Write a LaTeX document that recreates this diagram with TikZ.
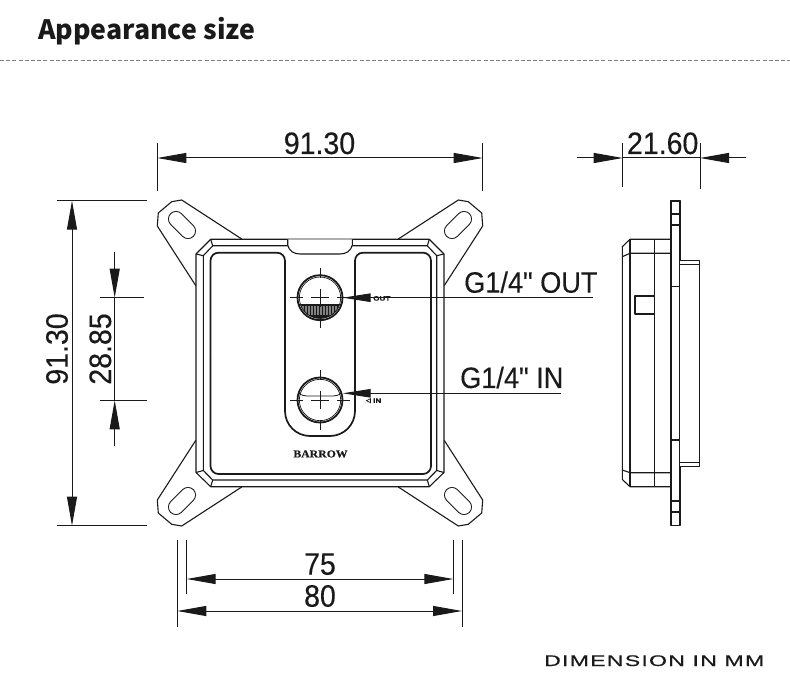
\documentclass[tikz,border=0pt]{standalone}
\usepackage{fontspec}
\usetikzlibrary{arrows.meta}
\setmainfont{Liberation Sans}
\newfontfamily\titlef{Noto Sans CJK SC}
\newfontfamily\dimf[FakeStretch=0.92,FakeBold=0.25]{Liberation Sans}
\newfontfamily\brandf[FakeStretch=1.12,FakeBold=0.6]{Liberation Serif}
\newfontfamily\footf[FakeStretch=1.5,LetterSpace=8,FakeBold=0.4]{Liberation Sans}
\newfontfamily\tinyf[FakeStretch=1.25,FakeBold=0.5]{Liberation Sans}
\definecolor{ink}{HTML}{1A1A1A}
\tikzset{
  x=1pt,y=-1pt,
  thinl/.style={draw=ink,line width=1pt},
  outl/.style={draw=ink,line width=1.1pt,line join=round},
  heavy/.style={draw=ink,line width=1.7pt,line join=round},
  ext/.style={draw=ink,line width=0.9pt},
  dimline/.style={draw=ink,line width=1pt},
  dimtip/.tip={Triangle[length=29pt,width=10pt,sep=0pt]},
  both/.style={dimline,{dimtip}-{dimtip}},
  onetip/.style={dimline,-{dimtip}},
  dimtext/.style={inner sep=0pt,anchor=base,text=ink,font=\dimf\fontsize{31}{31}\selectfont},
  labeltext/.style={inner sep=0pt,anchor=base west,text=ink,font=\dimf\fontsize{29.5}{30}\selectfont},
  smalltext/.style={inner sep=0pt,anchor=west,text=ink,font=\tinyf\bfseries\fontsize{6.5}{7}\selectfont},
  center/.style={draw=ink,line width=0.9pt},
}
\newcommand{\earshape}{%
  \draw[outl] (-124,-77) -- (-162.7,-137) -- (-161.7,-150) -- (-148.3,-161.3) -- (-138.3,-163) -- (-78.3,-124);
  \draw[draw=ink,line width=16pt,line cap=round] (-144,-144) -- (-132,-132);
  \draw[draw=white,line width=14pt,line cap=round] (-144,-144) -- (-132,-132);
}
\newcommand{\crosshair}[2]{%
  \draw[center] (#1-30,#2) -- (#1-17,#2) (#1-9,#2) -- (#1+9,#2) (#1+17,#2) -- (#1+30,#2);
  \draw[center] (#1,#2-30) -- (#1,#2-20) (#1,#2-9) -- (#1,#2+9) (#1,#2+20) -- (#1,#2+30);
}
\begin{document}
\begin{tikzpicture}
\useasboundingbox (0,0) rectangle (790,700);
\fill[white] (0,0) rectangle (790,700);
% title
\node[inner sep=0pt,anchor=base west,text=ink,font=\titlef\bfseries\fontsize{26.7}{27}\selectfont] (title) at (38,39.5) {Appearance size};
\coordinate (ruleL) at (0,60.5); \coordinate (ruleR) at (790,60.5);
\draw[draw=gray,line width=0.8pt,dash pattern=on 4pt off 2.2pt] (ruleL) -- (ruleR);
% ears
\foreach \sx/\sy in {1/1,-1/1,1/-1,-1/-1}{
  \begin{scope}[shift={(320,363)},xscale=\sx,yscale=\sy]\earshape\end{scope}
}
% body
\draw[outl,fill=white] (210.7,239.3) -- (429.3,239.3) -- (444,254) -- (444,472.5) -- (429.3,486.7) -- (210.7,486.7) -- (196,472.5) -- (196,254) -- cycle;
\draw[outl] (212.7,245.8) -- (427.3,245.8) -- (436.7,255.7) -- (436.7,470.5) -- (427.3,480) -- (212.7,480) -- (203.3,470.5) -- (203.3,255.7) -- cycle;
\draw[outl] (210.7,239.3) -- (212.7,245.8) (429.3,239.3) -- (427.3,245.8)
  (444,254) -- (436.7,255.7) (196,254) -- (203.3,255.7)
  (444,472.5) -- (436.7,470.5) (196,472.5) -- (203.3,470.5)
  (429.3,486.7) -- (427.3,480) (210.7,486.7) -- (212.7,480);
% notch
\draw[outl,fill=white] (287.7,239.3) -- (287.7,245) .. controls (289,251) and (294,254) .. (300,254) -- (340,254) .. controls (346,254) and (351,251) .. (352.3,245) -- (352.3,239.3);
% plate outline
\draw[heavy,rounded corners=8pt] (210.5,360) -- (210.5,252.7) -- (285,252.7) -- (285,300);
\draw[heavy,rounded corners=25pt] (285,290) -- (285,436) -- (355,436) -- (355,290);
\draw[heavy,rounded corners=8pt] (355,300) -- (355,252.7) -- (431,252.7) -- (431,474) -- (210.5,474) -- (210.5,360);
% ports
\begin{scope}
  \clip (320,297.7) circle (21);
  \fill[ink] (298,305) rectangle (342,322);
  \foreach \i in {0,...,28}{\draw[draw=ink!55,line width=0.4pt] (299+\i*1.5,306) -- (299+\i*1.5,315);}
\end{scope}
\draw[draw=ink,line width=1pt] (299,305) -- (341,305);
\draw[heavy,line width=1.8pt] (320,297.7) circle (22.5);
\draw[thinl,line width=0.7pt] (320,297.7) circle (20.7);
\crosshair{320}{297.7}
\draw[heavy,line width=1.8pt] (320,400) circle (22.5);
\draw[thinl,line width=0.7pt] (320,400) circle (20.7);
\draw[thinl,line width=0.8pt] (298.8,393) .. controls (301,395.5) and (305,396) .. (309,396) -- (331,396) .. controls (335,396) and (339,395.5) .. (341.2,393);
\crosshair{320}{400}
\node[inner sep=0pt,text=ink,font=\brandf\bfseries\fontsize{10.5}{11}\selectfont] (brand) at (320.5,454) {BARROW};
% leaders
\coordinate (outEnd) at (593,297.7); \coordinate (outTip) at (342.7,297.7);
\coordinate (inEnd) at (561,393.3); \coordinate (inTip) at (342.7,393.3);
\draw[dimline,-{Triangle[length=28pt,width=8.5pt,sep=0pt]}] (outEnd) -- (outTip);
\draw[dimline,-{Triangle[length=28pt,width=8.5pt,sep=0pt]}] (inEnd) -- (inTip);
\node[smalltext] (outSmall) at (373,298.4) {OUT};
\node[smalltext] (inSmall) at (373,400.7) {IN};
\draw[draw=ink,line width=0.7pt] (370.5,398.7) -- (366.5,400.7) -- (370.5,402.7) -- cycle;
\node[labeltext] (gOut) at (464,292.7) {G1/4" OUT};
\node[labeltext] (gIn) at (460,388) {G1/4" IN};
% dimension 91.30 top
\coordinate (a1) at (157.3,158); \coordinate (a2) at (482.7,158);
\draw[both] (a1) -- (a2);
\draw[ext] (157.3,143.3) -- (157.3,190.7) (482.7,143.3) -- (482.7,190.7);
\node[dimtext] (dimTop) at (319.5,154) {91.30};
% dimension 21.60
\coordinate (b0) at (577,158); \coordinate (b1) at (622.7,158); \coordinate (b2) at (700,158); \coordinate (b3) at (745.7,158);
\draw[onetip] (b0) -- (b1);
\draw[onetip] (b3) -- (b2);
\draw[dimline] (b1) -- (b2);
\draw[ext] (622.7,143.3) -- (622.7,187.5) (700,143.3) -- (700,189);
\node[dimtext] (dimSide) at (662.7,154) {21.60};
% dimension 91.30 left
\coordinate (c1) at (72,200.7); \coordinate (c2) at (72,525.7);
\draw[both] (c1) -- (c2);
\draw[ext] (57.3,200.7) -- (147.3,200.7) (57.3,525.7) -- (147.3,525.7);
\node[dimtext,rotate=90] (dimLeft) at (67.7,349) {91.30};
% dimension 28.85
\coordinate (d0) at (114.7,252); \coordinate (d1) at (114.7,297.7); \coordinate (d2) at (114.7,400.3); \coordinate (d3) at (114.7,446);
\draw[onetip] (d0) -- (d1);
\draw[onetip] (d3) -- (d2);
\draw[dimline] (d1) -- (d2);
\draw[ext] (100,297.7) -- (143.5,297.7) (100,400.3) -- (146.5,400.3);
\node[dimtext,rotate=90] (dimHole) at (111,349) {28.85};
% dimension 75 / 80
\coordinate (e1) at (186.7,579); \coordinate (e2) at (453.3,579);
\coordinate (f1) at (177.3,611); \coordinate (f2) at (462,611);
\draw[both] (e1) -- (e2);
\draw[both] (f1) -- (f2);
\draw[ext] (186.7,540) -- (186.7,593.5) (453.3,540) -- (453.3,593.5);
\draw[ext] (177.3,540) -- (177.3,626.5) (462,540) -- (462,626.5);
\node[dimtext] (dim75) at (320,574.7) {75};
\node[dimtext] (dim80) at (320,606.7) {80};
% side view
\draw[outl,fill=white] (630,239.3) -- (671,239.3) -- (671,486.7) -- (630,486.7) -- (622.3,479.5) -- (622.3,246.7) -- cycle;
\draw[outl] (630,239.3) -- (630,486.7) (654.3,239.3) -- (654.3,486.7);
\draw[outl] (622.3,256.7) -- (630,253.3) -- (671,253.3);
\draw[outl] (622.3,470) -- (630,472.7) -- (671,472.7);
\draw[outl] (654.3,296) -- (635,296) -- (635,314) -- (654.3,314);
\draw[outl,fill=white] (671,200.7) rectangle (680,525.7);
\draw[outl] (671,214) -- (680,214) (671,225) -- (680,225) (671,286.7) -- (680,286.7)
  (671,440) -- (680,440) (671,501) -- (680,501) (671,512) -- (680,512);
\draw[draw=ink,line width=1.5pt] (671,201) -- (680,201) (671,525.3) -- (680,525.3);
\draw[outl,fill=white] (680,260.7) -- (699.3,260.7) -- (699.3,466.7) -- (680,466.7);
\draw[outl] (680,264.3) -- (699.3,264.3) (680,462.7) -- (699.3,462.7);
% footer
\node[inner sep=0pt,anchor=base west,text=ink,font=\footf\fontsize{15.4}{16}\selectfont] (foot) at (544,666) {DIMENSION IN MM};
\end{tikzpicture}
\end{document}
